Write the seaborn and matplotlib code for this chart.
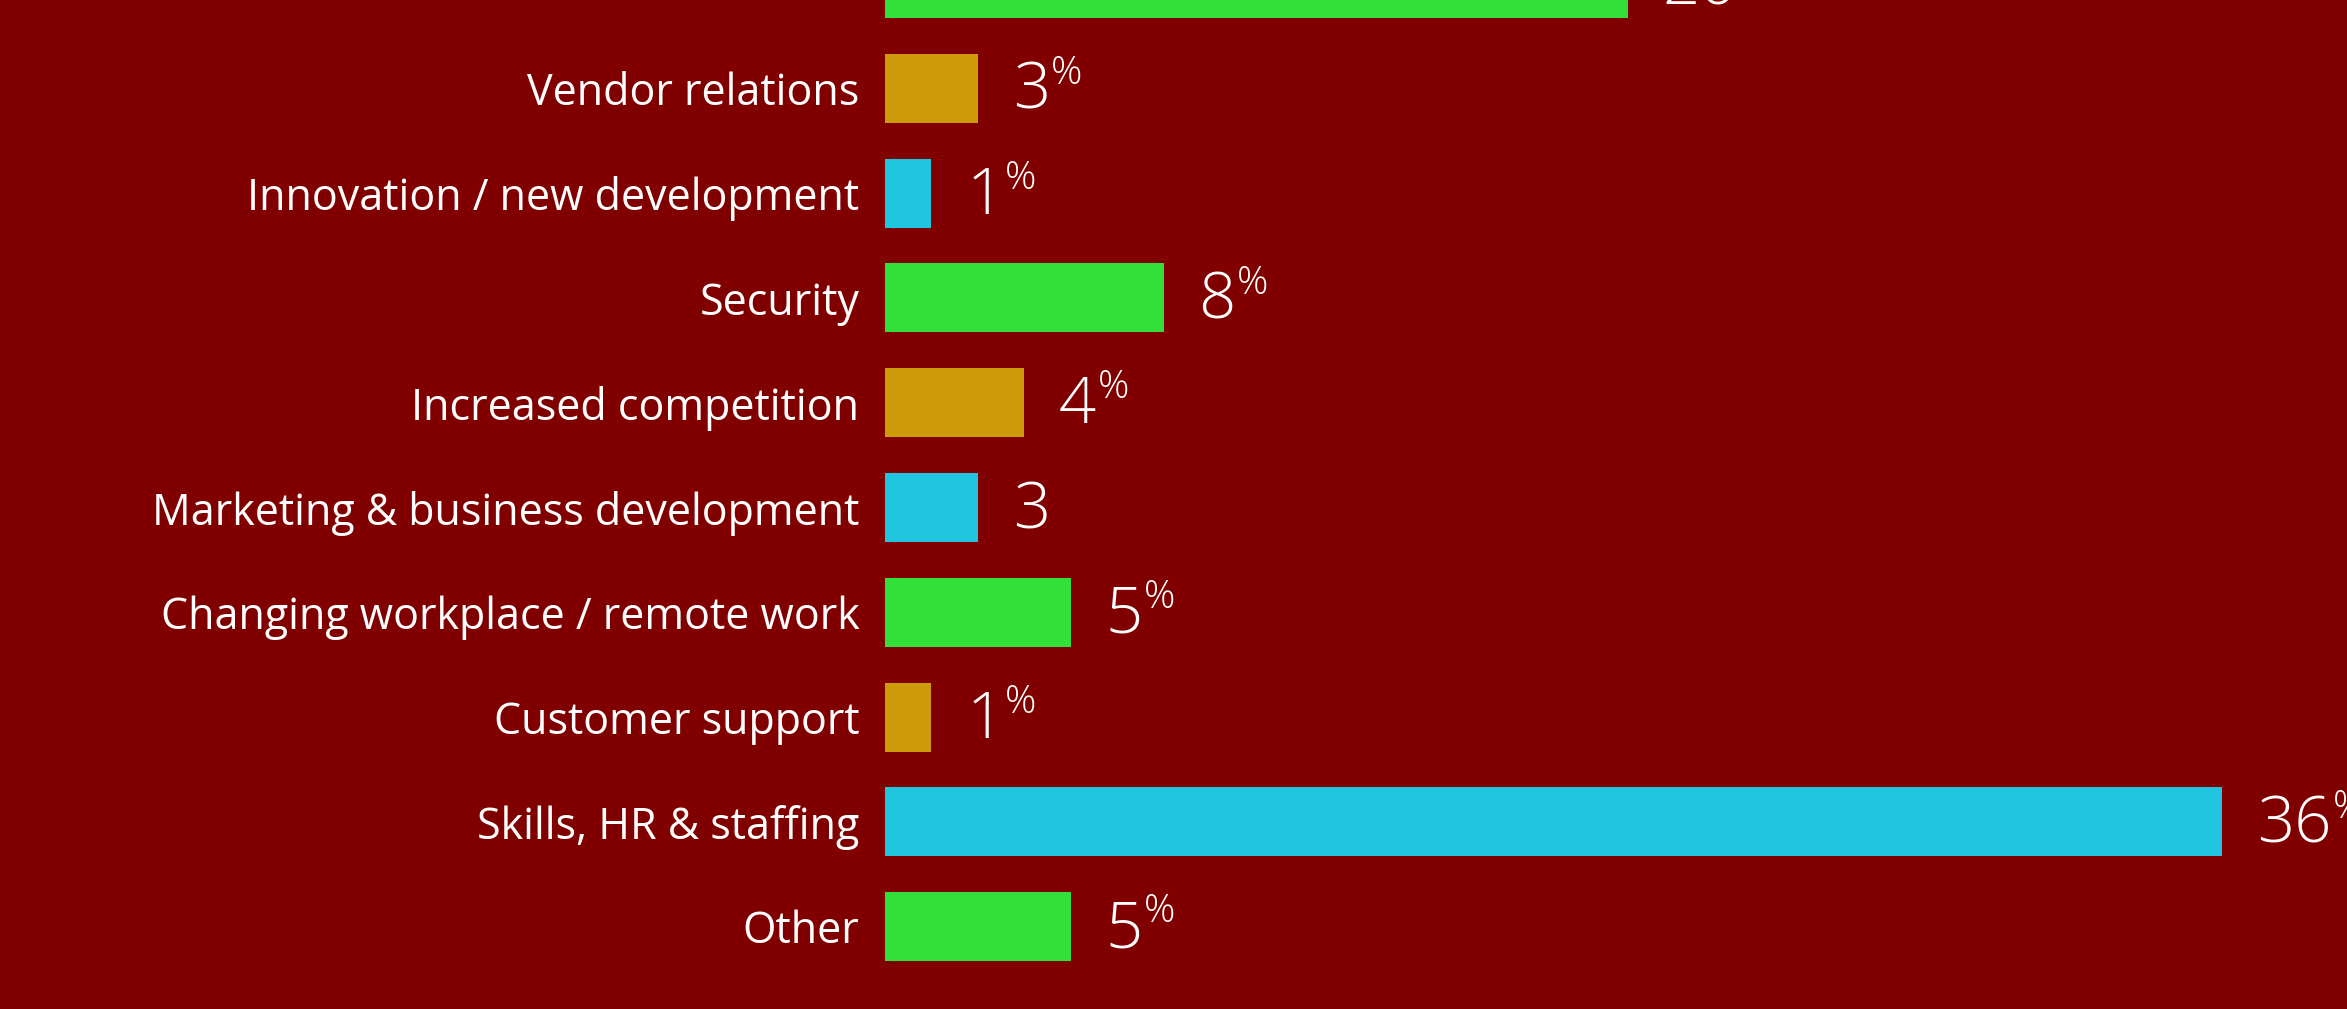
import math
import matplotlib
matplotlib.use("Agg")
import matplotlib.pyplot as plt
import seaborn as sns

# Share of respondents naming each area as their top challenge
categories = [
    "Budgets",
    "Vendor relations",
    "Innovation / new development",
    "Security",
    "Increased competition",
    "Marketing & business development",
    "Changing workplace / remote work",
    "Customer support",
    "Skills, HR & staffing",
    "Other",
]
values = [20, 2.5, 1.25, 7.5, 3.75, 2.5, 5, 1.25, 36, 5]
# the marketing row is published without a percent sign
show_percent = [True, True, True, True, True, False, True, True, True, True]

bar_colors = ["#33e03a", "#cc9a0a", "#20c5df"]
palette = [bar_colors[i % 3] for i in range(len(categories))]
background = "#800000"

sns.set_theme(style="white")
plt.rcParams["font.family"] = ["Open Sans", "DejaVu Sans"]

W, H, DPI = 2347, 1009, 100
fig = plt.figure(figsize=(W / DPI, H / DPI), dpi=DPI, facecolor=background)

row_px = 104.8          # vertical pitch of rows
first_center_px = -16.5  # first row sits partly above the frame
x0_px = 885
unit_px = 37.15          # pixels per percentage point

ax = fig.add_axes([x0_px / W, 0, (W - x0_px) / W, 1])
ax.set_facecolor(background)

sns.barplot(
    x=values, y=categories, hue=categories, palette=palette,
    orient="h", width=0.66, saturation=1, legend=False, ax=ax,
    linewidth=0, edgecolor="none",
)

top = -first_center_px / row_px
ax.set_ylim(top + H / row_px, top)
ax.set_xlim(0, (W - x0_px) / unit_px)

for s in ax.spines.values():
    s.set_visible(False)
ax.set_xticks([])
ax.set_xlabel("")
ax.set_ylabel("")
ax.tick_params(axis="y", length=0, pad=18.5, labelsize=31, labelcolor="white")

for i, (v, pct) in enumerate(zip(values, show_percent)):
    label = str(math.floor(v + 0.5))
    num = ax.annotate(
        label, xy=(v, i), xytext=(25, -3), textcoords="offset points",
        ha="left", va="center", color="white", fontsize=47,
        fontweight="light", annotation_clip=False,
    )
    if pct:
        ax.annotate(
            "%", xy=(1, 1), xycoords=num, xytext=(1, 4),
            textcoords="offset points", ha="left", va="top",
            color="white", fontsize=28, fontweight="light",
            annotation_clip=False,
        )

fig.savefig("out.png", dpi=DPI, facecolor=background)
